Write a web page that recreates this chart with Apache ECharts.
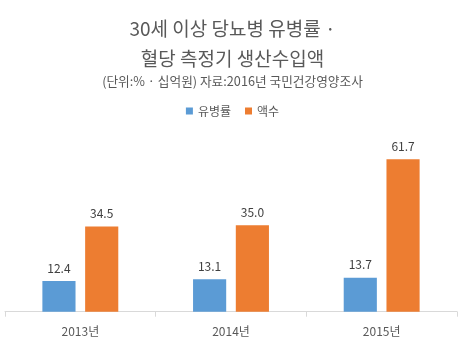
<!DOCTYPE html>
<html><head><meta charset="utf-8">
<script src="https://cdn.jsdelivr.net/npm/echarts@6/dist/echarts.min.js"></script>
<style>html,body{margin:0;padding:0;background:#fff}#c{width:465px;height:350px}</style>
</head><body><div id="c"></div>
<script>
const categories = ['2013년', '2014년', '2015년'];
const prevalence = [12.4, 13.1, 13.7];
const amount = [34.5, 35.0, 61.7];
const seriesNames = ['유병률', '액수'];
const titleLines = ['30세 이상 당뇨병 유병률 ·', '혈당 측정기 생산수입액'];
const subtitleText = '(단위:% · 십억원) 자료:2016년 국민건강영양조사';

const FONT = '"Noto Sans CJK KR", "Noto Sans", sans-serif';
const chart = echarts.init(document.getElementById('c'), null, {renderer: 'canvas'});
const labelStyle = {show: true, position: 'top', distance: 7, color: '#404040', fontSize: 12, fontFamily: FONT, formatter: p => p.value.toFixed(1)};
chart.setOption({
  animation: false,
  textStyle: {fontFamily: FONT},
  title: [
    {text: titleLines.join('\n'), left: 'center', top: 9, textStyle: {fontSize: 19, fontWeight: 'normal', color: '#595959', lineHeight: 30, fontFamily: FONT}},
    {text: subtitleText, left: 'center', top: 70, textStyle: {fontSize: 12.7, fontWeight: 'normal', color: '#595959', fontFamily: FONT}}
  ],
  legend: {top: 100, left: 'center', itemWidth: 7, itemHeight: 7, itemGap: 14, icon: 'rect', textStyle: {fontSize: 12, color: '#595959', fontFamily: FONT}, data: seriesNames},
  grid: {left: 5, right: 8, top: 138.8, bottom: 38.3, containLabel: false},
  xAxis: {type: 'category', data: categories,
    axisLine: {lineStyle: {color: '#d9d9d9'}},
    axisTick: {show: true, length: 5, lineStyle: {color: '#d9d9d9'}},
    axisLabel: {color: '#595959', fontSize: 12, margin: 14, fontFamily: FONT}},
  yAxis: {type: 'value', min: 0, max: 70, show: false, splitLine: {show: false}},
  series: [
    {name: seriesNames[0], type: 'bar', data: prevalence, barWidth: '22%', barGap: '29%', itemStyle: {color: '#5B9BD5'}, label: labelStyle},
    {name: seriesNames[1], type: 'bar', data: amount, barWidth: '22%', itemStyle: {color: '#ED7D31'}, label: labelStyle}
  ]
});
</script></body></html>
